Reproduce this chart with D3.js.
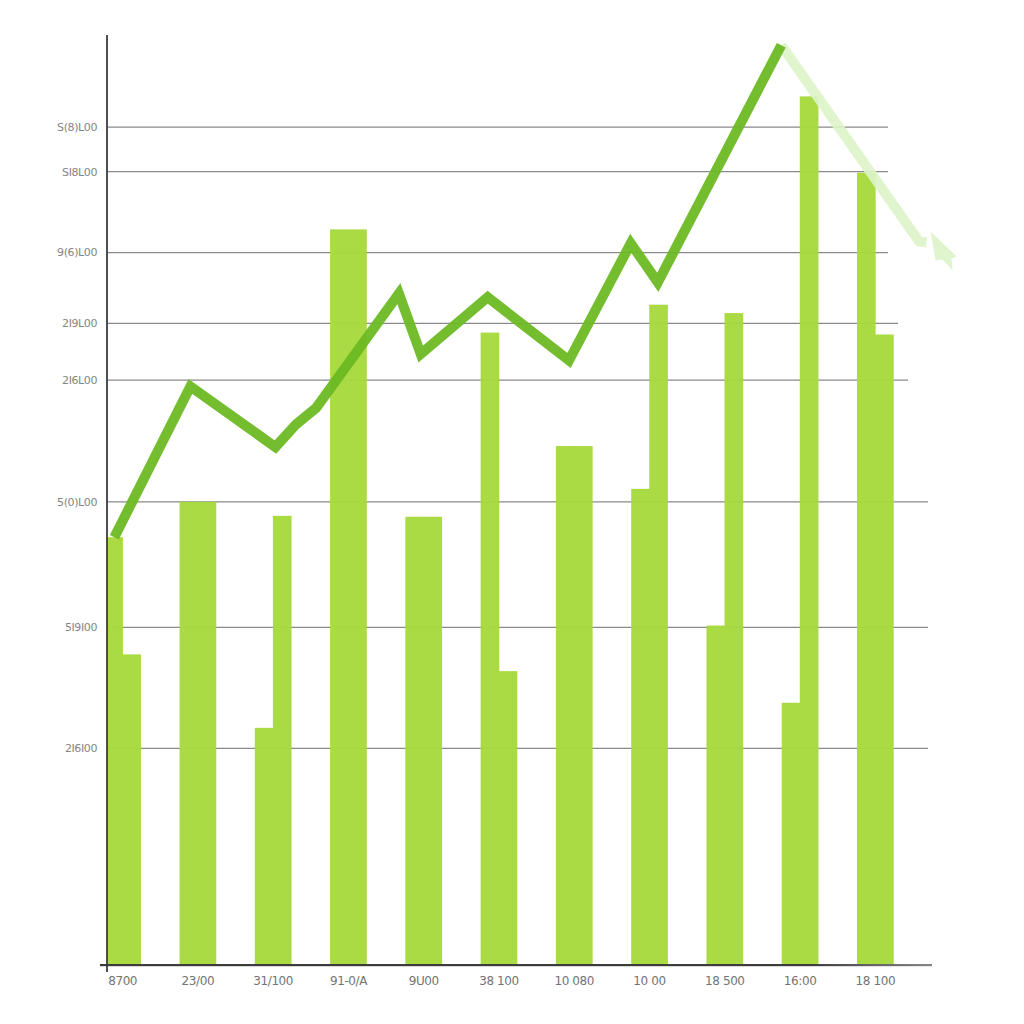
<!DOCTYPE html>
<html>
<head>
<meta charset="utf-8">
<script src="https://cdn.jsdelivr.net/npm/d3@7"></script>
<style>
  html, body { margin: 0; padding: 0; background: #ffffff; }
  svg { display: block; }
</style>
</head>
<body>
<svg id="chart" width="1024" height="1024"></svg>
<script>
// ---- data ----
const categories = ["8700", "23/00", "31/100", "91-0/A", "9U00", "38 100", "10 080", "10 00", "18 500", "16:00", "18 100"];
const leftValues  = [460, 498, 255, 791, 482, 680, 558, 512, 365, 282, 852];
const rightValues = [334, 498, 483, 791, 482, 316, 558, 710, 701, 934, 678];
const tickValues = [901, 853, 766, 690, 629, 498, 363, 233];
const tickLabels = ["S(8)L00", "SI8L00", "9(6)L00", "2I9L00", "2I6L00", "5(0)L00", "5I9I00", "2I6I00"];
// trend line (x in category units, y in value units)
const lineX = [-0.11, 0.90, 2.03, 2.30, 2.57, 3.67, 3.96, 4.85, 5.93, 6.75, 7.11, 8.75];
const lineY = [460, 622, 557, 581, 599, 722, 657, 718, 650, 776, 734, 989];
const fadeX = [8.75, 10.58, 10.68];
const fadeY = [989, 778, 777];

// ---- layout / style ----
const barColor = "#a8da3e";
const lineColor = "#6cb923";
const fadeColor = "#ddf4c9";
const gridEnds = [888, 888, 888, 898, 908, 928, 928, 928];

const svg = d3.select("#chart");

const y = d3.scaleLinear().domain([0, 1000]).range([965, 35]);
const xBand = d3.scaleBand().domain(categories).range([85, 913])
  .paddingInner(0.52).paddingOuter(0.26);
const xSub = d3.scaleBand().domain(["left", "right"]).range([0, xBand.bandwidth()]);
const step = xBand.step();
const x0 = xBand(categories[0]) + xBand.bandwidth() / 2;
const xLin = d3.scaleLinear().domain([0, 10]).range([x0, x0 + 10 * step]);

// gridlines
svg.append("g").selectAll("line").data(tickValues).join("line")
  .attr("x1", 107).attr("x2", (d, i) => gridEnds[i])
  .attr("y1", d => y(d)).attr("y2", d => y(d))
  .attr("stroke", "#8a8a8a").attr("stroke-width", 1.2);

// y tick labels
svg.append("g").selectAll("text").data(tickValues).join("text")
  .attr("x", 97).attr("y", d => y(d)).attr("dy", "0.35em")
  .attr("text-anchor", "end")
  .attr("font-family", "DejaVu Sans, sans-serif").attr("font-size", 11)
  .attr("fill", "#858585").attr("letter-spacing", "-0.4")
  .text((d, i) => tickLabels[i]);

// bars
const barData = [];
categories.forEach((c, i) => {
  barData.push({ c, side: "left", v: leftValues[i] });
  barData.push({ c, side: "right", v: rightValues[i] });
});
svg.append("g").selectAll("rect").data(barData).join("rect")
  .attr("x", d => Math.max(107, xBand(d.c) + xSub(d.side) - 0.3))
  .attr("width", d => xBand(d.c) + xSub(d.side) + xSub.bandwidth() + 0.3 - Math.max(107, xBand(d.c) + xSub(d.side) - 0.3))
  .attr("y", d => y(d.v))
  .attr("height", d => y(0) - y(d.v))
  .attr("fill", barColor).attr("fill-opacity", 0.97);

// faded continuation
const fadePts = fadeX.map((d, i) => [xLin(d), y(fadeY[i])]);
svg.append("path").datum(fadePts)
  .attr("d", d3.line())
  .attr("fill", "none").attr("stroke", fadeColor).attr("stroke-width", 10)
  .attr("stroke-linejoin", "round").attr("opacity", 0.9);

// faded arrow head (shape relative to last faded point)
const endP = fadePts[fadePts.length - 1];
svg.append("path")
  .attr("d", d3.line()([[endP[0] + 4, endP[1] - 11], [endP[0] + 30, endP[1] + 14], [endP[0] + 25, endP[1] + 16],
    [endP[0] + 26, endP[1] + 28], [endP[0] + 16, endP[1] + 17], [endP[0] + 9, endP[1] + 18]]) + "Z")
  .attr("fill", fadeColor).attr("opacity", 0.9);

// main trend line
const linePts = lineX.map((d, i) => [xLin(d), y(lineY[i])]);
svg.append("path").datum(linePts)
  .attr("d", d3.line())
  .attr("fill", "none").attr("stroke", lineColor).attr("stroke-width", 10)
  .attr("stroke-linejoin", "miter").attr("stroke-miterlimit", 3)
  .attr("opacity", 0.95);

// axes
svg.append("line").attr("x1", 107).attr("x2", 107).attr("y1", 35).attr("y2", 972)
  .attr("stroke", "#3c3c3c").attr("stroke-width", 1.8);
const grad = svg.append("defs").append("linearGradient").attr("id", "axg")
  .attr("x1", "0").attr("x2", "1");
grad.append("stop").attr("offset", "0").attr("stop-color", "#3c3c3c");
grad.append("stop").attr("offset", "0.85").attr("stop-color", "#3c3c3c");
grad.append("stop").attr("offset", "1").attr("stop-color", "#888");
svg.append("rect").attr("x", 100).attr("y", y(0) - 1).attr("width", 832).attr("height", 2.2)
  .attr("fill", "url(#axg)");

// x labels
const xAxis = d3.axisBottom(xBand).tickSize(0).tickPadding(10);
const gx = svg.append("g").attr("transform", `translate(0,${y(0) + 1})`).call(xAxis);
gx.select(".domain").remove();
gx.selectAll("text")
  .attr("font-family", "DejaVu Sans, sans-serif").attr("font-size", 12)
  .attr("fill", "#747474").attr("letter-spacing", "-0.4");
</script>
</body>
</html>
